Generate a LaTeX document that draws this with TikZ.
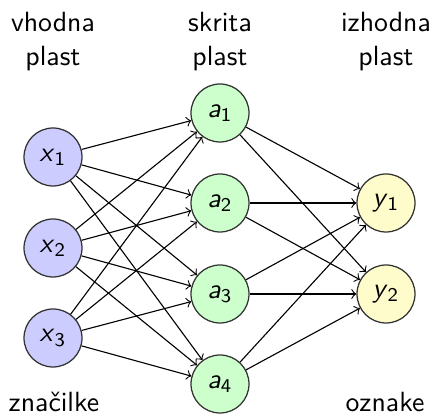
\documentclass[tikz,border=0pt]{standalone}
\usepackage{fontspec}
\newcommand\nv[2]{\textit{#1}\textsubscript{#2}}
\begin{document}
\begin{tikzpicture}[x=0.36pt,y=-0.36pt,
  font=\sffamily,
  neuron/.style={circle,draw=black!80,line width=0.45pt,minimum size=58*0.36pt,inner sep=0pt},
  inp/.style={neuron,fill=blue!20},
  hid/.style={neuron,fill=green!20},
  outp/.style={neuron,fill=yellow!20},
  lbl/.style={anchor=base,inner sep=0pt},
  conn/.style={->,line width=0.4pt}]
\useasboundingbox (0,0) rectangle (433,415);
% layer captions
\node[lbl] (t1a) at (53,32) {vhodna};
\node[lbl] (t1b) at (53,66) {plast};
\node[lbl] (t2a) at (220,32) {skrita};
\node[lbl] (t2b) at (220,66) {plast};
\node[lbl] (t3a) at (386,32) {izhodna};
\node[lbl] (t3b) at (386,66) {plast};
\node[lbl] (b1) at (54,412) {značilke};
\node[lbl] (b3) at (385,412) {oznake};
% neurons
\node[inp] (x1) at (53,157) {\nv{x}{1}};
\node[inp] (x2) at (53,248) {\nv{x}{2}};
\node[inp] (x3) at (53,338) {\nv{x}{3}};
\node[hid] (a1) at (220,113) {\nv{a}{1}};
\node[hid] (a2) at (220,203) {\nv{a}{2}};
\node[hid] (a3) at (220,294) {\nv{a}{3}};
\node[hid] (a4) at (220,384) {\nv{a}{4}};
\node[outp] (y1) at (386,203) {\nv{y}{1}};
\node[outp] (y2) at (386,294) {\nv{y}{2}};
% connections
\foreach \i in {1,2,3}
  \foreach \j in {1,2,3,4}
    \draw[conn] (x\i) -- (a\j);
\foreach \j in {1,2,3,4}
  \foreach \k in {1,2}
    \draw[conn] (a\j) -- (y\k);
\end{tikzpicture}
\end{document}
